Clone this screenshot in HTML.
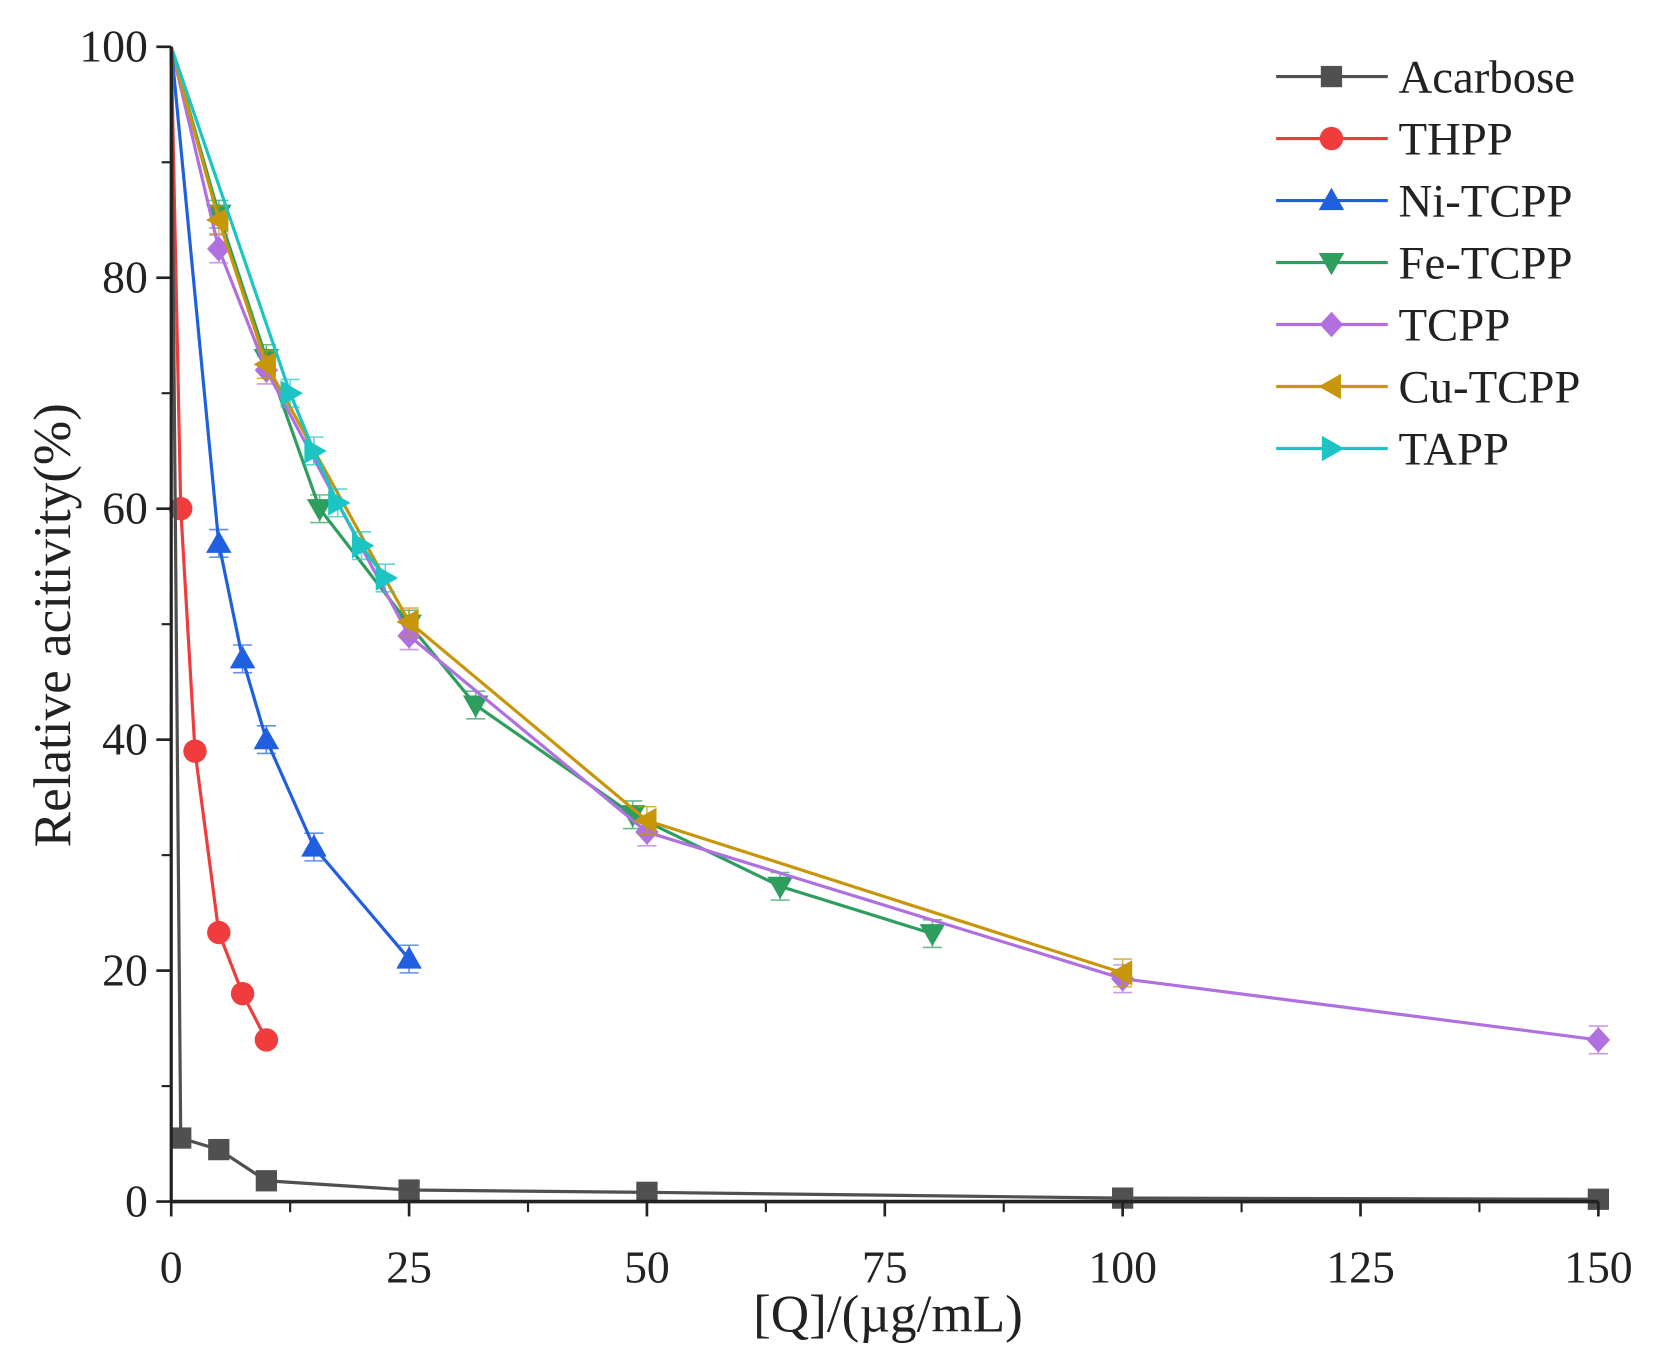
<!DOCTYPE html>
<html><head><meta charset="utf-8"><style>
html,body{margin:0;padding:0;background:#fff;}
svg{display:block;font-family:"Liberation Serif",serif;}
</style></head><body>
<svg id="chart" width="1659" height="1360" viewBox="0 0 1560 1279" preserveAspectRatio="none" xmlns="http://www.w3.org/2000/svg">
<rect x="0" y="0" width="1560" height="1279" fill="#fff"/>
<g id="plot"></g>
<g id="axes"></g>
<g id="legend"></g>
</svg>
<script>
const seriesNames = ["Acarbose","THPP","Ni-TCPP","Fe-TCPP","TCPP","Cu-TCPP","TAPP"];
const seriesColors = ["#505050","#f03c3c","#1f5fe0","#2e9e5e","#b070e0","#c8960a","#1cc4c4"];
const seriesMarkers = ["square","circle","up","down","diamond","left","right"];
const acarboseX = [0,1,5,10,25,50,100,150];
const acarboseY = [100,5.5,4.5,1.8,1,0.8,0.3,0.2];
const thppX = [0,1,2.5,5,7.5,10];
const thppY = [100,60,39,23.3,18,14];
const niX = [0,5,7.5,10,15,25];
const niY = [100,57,47,40,30.7,21];
const feX = [0,5,10,15.6,25,32,48.5,64,80];
const feY = [100,85.5,73,60,50,43,33.5,27.3,23.2];
const tcppX = [0,5,10,25,50,100,150];
const tcppY = [100,82.5,72,49,32,19.3,14];
const cuX = [0,5,10,25,50,100];
const cuY = [100,85,72.5,50.2,33,19.8];
const tappX = [0,12.5,15,17.5,20,22.5];
const tappY = [100,70,65,60.5,56.8,54];
const xTicks = [0,25,50,75,100,125,150];
const yTicks = [0,20,40,60,80,100];

const NS="http://www.w3.org/2000/svg";
const X0=161,X1=1503,Y0=1130,Y1=44;
const sx=v=>X0+(v/150)*(X1-X0);
const sy=v=>Y0-(v/100)*(Y0-Y1);
function mk(tag,attrs,parent){const e=document.createElementNS(NS,tag);for(const k in attrs)e.setAttribute(k,attrs[k]);parent.appendChild(e);return e;}
function marker(type,cx,cy,color,parent){
  const r=11;let e;
  if(type==="square")e=mk("rect",{x:cx-r+1,y:cy-r+1,width:2*r-2,height:2*r-2,fill:color},parent);
  else if(type==="circle")e=mk("circle",{cx:cx,cy:cy,r:r,fill:color},parent);
  else{let p;
    if(type==="up")p=[[cx,cy-r-1],[cx+r+1,cy+r-2],[cx-r-1,cy+r-2]];
    else if(type==="down")p=[[cx,cy+r+1],[cx+r+1,cy-r+2],[cx-r-1,cy-r+2]];
    else if(type==="diamond")p=[[cx,cy-r-1],[cx+r,cy],[cx,cy+r+1],[cx-r,cy]];
    else if(type==="left")p=[[cx-r-1,cy],[cx+r-2,cy-r-1],[cx+r-2,cy+r+1]];
    else p=[[cx+r+1,cy],[cx-r+2,cy-r-1],[cx-r+2,cy+r+1]];
    e=mk("polygon",{points:p.map(q=>q.join(",")).join(" "),fill:color},parent);}
  return e;
}
const plot=document.getElementById("plot");
const allX=[acarboseX,thppX,niX,feX,tcppX,cuX,tappX];
const allY=[acarboseY,thppY,niY,feY,tcppY,cuY,tappY];
const order=[3,4,5,6,2,1,0];
order.forEach(i=>{
  const g=mk("g",{},plot);
  
  
  const pts=allX[i].map((x,j)=>sx(x)+","+sy(allY[i][j])).join(" ");
  const l=mk("polyline",{points:pts,fill:"none",stroke:seriesColors[i],"stroke-width":3},g);
  
  
  allX[i].forEach((x,j)=>{
    if(j===0)return;
    const cx=sx(x),cy=sy(allY[i][j]);
    if(i>1){const eb=mk("path",{d:`M${cx-9},${cy-13}H${cx+9}M${cx},${cy-13}V${cy+13}M${cx-9},${cy+13}H${cx+9}`,stroke:seriesColors[i],"stroke-width":1.5,fill:"none",opacity:0.7},g);
      
      }
    const m=marker(seriesMarkers[i],cx,cy,seriesColors[i],g);
    
    
  });
});
const axes=document.getElementById("axes");
const xa=mk("path",{d:`M${X0},${Y0}H${X1}`,stroke:"#222","stroke-width":3.5},axes);


const ya=mk("path",{d:`M${X0},${Y0}V${Y1}`,stroke:"#222","stroke-width":3},axes);


xTicks.forEach(v=>{
  mk("path",{d:`M${sx(v)},${Y0}V${Y0+14}`,stroke:"#222","stroke-width":2.5},axes);
  if(v<150)mk("path",{d:`M${sx(v+12.5)},${Y0}V${Y0+10}`,stroke:"#222","stroke-width":2},axes);
  const t=mk("text",{x:sx(v),y:Y0+76,"text-anchor":"middle","font-size":43,fill:"#222"},axes);
  t.textContent=v;
  
  
});
yTicks.forEach(v=>{
  mk("path",{d:`M${X0-14},${sy(v)}H${X0}`,stroke:"#222","stroke-width":2.5},axes);
  if(v<100)mk("path",{d:`M${X0-9},${sy(v+10)}H${X0}`,stroke:"#222","stroke-width":2},axes);
  const t=mk("text",{x:X0-22,y:sy(v)+14,"text-anchor":"end","font-size":43,fill:"#222"},axes);
  t.textContent=v;
  
  
});
const xt=mk("text",{x:835,y:1252,"text-anchor":"middle","font-size":50,fill:"#222"},axes);
xt.textContent="[Q]/(\u00b5g/mL)";


const yt=mk("text",{x:0,y:0,"text-anchor":"middle","font-size":50,fill:"#222",transform:"translate(66,588) rotate(-90)"},axes);
yt.textContent="Relative acitivity(%)";


const leg=document.getElementById("legend");
seriesNames.forEach((n,i)=>{
  const y=72+i*58.3;
  const g=mk("g",{},leg);
  
  
  mk("path",{d:`M1200,${y}H1305`,stroke:seriesColors[i],"stroke-width":3},g);
  marker(seriesMarkers[i],1252,y,seriesColors[i],g);
  const t=mk("text",{x:1315,y:y+15,"font-size":44,fill:"#222"},g);
  t.textContent=n;
});
</script>
</body></html>
